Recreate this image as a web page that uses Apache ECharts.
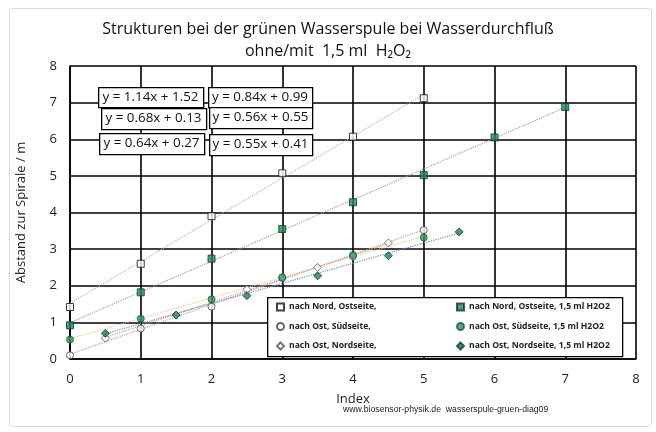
<!DOCTYPE html>
<html>
<head>
<meta charset="utf-8">
<script src="https://cdn.jsdelivr.net/npm/echarts@6/dist/echarts.min.js"></script>
<style>
  html, body { margin: 0; padding: 0; background: #fff; }
  #chart { width: 656px; height: 432px; }
</style>
</head>
<body>
<div id="chart"></div>
<script>
// measured points (index, distance in m)
const nordOst = [[0, 1.42], [1, 2.6], [2, 3.9], [3, 5.07], [4, 6.07], [5, 7.12]];
const nordOstH2O2 = [[0, 0.92], [1, 1.82], [2, 2.74], [3, 3.55], [4, 4.28], [5, 5.02], [6, 6.05], [7, 6.88]];
const ostSued = [[0, 0.1], [1, 0.83], [2, 1.43], [3, 2.21], [4, 2.8], [5, 3.52]];
const ostSuedH2O2 = [[0, 0.53], [1, 1.1], [2, 1.63], [3, 2.23], [4, 2.84], [5, 3.32]];
const ostNord = [[0.5, 0.57], [1.5, 1.2], [2.5, 1.9], [3.5, 2.5], [4.5, 3.17]];
const ostNordH2O2 = [[0.5, 0.7], [1.5, 1.2], [2.5, 1.73], [3.5, 2.27], [4.5, 2.82], [5.5, 3.47]];

// trend line end points as drawn
const trendNordOst = [[0, 1.52], [5, 7.22]];
const trendNordOstH2O2 = [[0, 0.99], [7, 6.87]];
const trendOstSued = [[0, 0.13], [5, 3.53]];
const trendOstSuedH2O2 = [[0, 0.55], [5, 3.35]];
const trendOstNord = [[0.5, 0.59], [4.5, 3.15]];
const trendOstNordH2O2 = [[0.5, 0.69], [5.5, 3.44]];

const seriesNames = [
  'nach Nord, Ostseite,', 'nach Ost, Südseite,', 'nach Ost, Nordseite,',
  'nach Nord, Ostseite, 1,5 ml H2O2', 'nach Ost, Südseite, 1,5 ml H2O2', 'nach Ost, Nordseite, 1,5 ml H2O2'
];
const equations = [
  'y = 1.14x + 1.52', 'y = 0.84x + 0.99',
  'y = 0.68x + 0.13', 'y = 0.56x + 0.55',
  'y = 0.64x + 0.27', 'y = 0.55x + 0.41'
];
const xTicks = [0, 1, 2, 3, 4, 5, 6, 7, 8];

const FONT = 'Open Sans, sans-serif';
const green = '#23895b';

const chart = echarts.init(document.getElementById('chart'));

function pts(name, data, symbol, fill, border) {
  return {
    name: name, type: 'scatter', data: data, symbol: symbol, symbolSize: symbol === 'diamond' ? 8 : 7,
    itemStyle: { color: fill, borderColor: border, borderWidth: 1 }, z: 5
  };
}
function trend(data, color) {
  return {
    type: 'line', data: data, showSymbol: false, silent: true, z: 3,
    lineStyle: { color: color, width: 1.2, type: 'dotted' }
  };
}

// equation boxes (left, top, width, height)
const boxPos = [[98, 87, 105, 20], [208, 87, 104, 20], [101, 108, 105, 21],
                [209, 107, 103, 21], [99, 133, 105, 21], [209, 134, 103, 21]];
const graphics = [
  { type: 'rect', left: 7, top: 6, shape: { width: 642, height: 418, r: 3 },
    style: { fill: 'none', stroke: '#d9d9d9', lineWidth: 1 }, z: 0 },
  { type: 'rect', left: 267, top: 297, shape: { width: 355, height: 59 },
    style: { fill: '#fff', stroke: '#000', lineWidth: 1.3 }, z: 10 },
  { type: 'text', left: 343, top: 405, z: 10,
    style: { text: 'www.biosensor-physik.de  wasserspule-gruen-diag09', fontSize: 8.7,
             fontFamily: 'Liberation Sans Narrow, sans-serif', fill: '#222' } }
];
equations.forEach(function (eq, i) {
  const p = boxPos[i];
  graphics.push({ type: 'rect', left: p[0], top: p[1], shape: { width: p[2], height: p[3] },
    style: { fill: '#fff', stroke: '#000', lineWidth: 1.3 }, z: 10 });
  graphics.push({ type: 'text', x: p[0] + p[2] / 2, y: p[1] + p[3] / 2, z: 11,
    style: { text: eq, fontSize: 13.4, fontFamily: FONT, fill: '#111', align: 'center', verticalAlign: 'middle' } });
});

const legendText = { fontSize: 8.6, fontWeight: 'bold', lineHeight: 12, color: '#222', fontFamily: FONT };

chart.setOption({
  animation: false,
  backgroundColor: '#fff',
  title: [
    { text: 'Strukturen bei der grünen Wasserspule bei Wasserdurchfluß', left: 'center', top: 16,
      textStyle: { fontSize: 16, fontWeight: 'normal', fontFamily: FONT, color: '#111' } },
    { text: 'ohne/mit  1,5 ml  H₂O₂', left: 'center', top: 38,
      textStyle: { fontSize: 16, fontWeight: 'normal', fontFamily: FONT, color: '#111' } }
  ],
  grid: { left: 70, right: 20, top: 66, bottom: 73 },
  legend: [
    { data: seriesNames.slice(0, 3), orient: 'vertical', left: 271, top: 296,
      itemWidth: 7, itemHeight: 7, itemGap: 7.5, z: 12, textStyle: legendText },
    { data: seriesNames.slice(3), orient: 'vertical', left: 451, top: 296,
      itemWidth: 7, itemHeight: 7, itemGap: 7.5, z: 12, textStyle: legendText }
  ],
  xAxis: {
    type: 'value', min: xTicks[0], max: xTicks[xTicks.length - 1], interval: 1,
    name: 'Index', nameLocation: 'middle', nameGap: 34,
    nameTextStyle: { fontSize: 13, fontFamily: FONT, color: '#222' },
    axisLine: { lineStyle: { color: '#000', width: 1.6 } },
    axisTick: { show: false },
    axisLabel: { fontSize: 13, fontFamily: FONT, color: '#222', margin: 14 },
    splitLine: { lineStyle: { color: '#000', width: 1.6 } }
  },
  yAxis: {
    type: 'value', min: 0, max: 8, interval: 1,
    name: 'Abstand zur Spirale / m', nameLocation: 'middle', nameGap: 42,
    nameTextStyle: { fontSize: 13, fontFamily: FONT, color: '#222' },
    axisLine: { show: true, lineStyle: { color: '#000', width: 1.6 } },
    axisTick: { show: false },
    axisLabel: { fontSize: 13, fontFamily: FONT, color: '#222', margin: 13 },
    splitLine: { lineStyle: { color: '#000', width: 1.6 } }
  },
  graphic: graphics,
  series: [
    trend(trendNordOst, '#b8b4cc'),
    trend(trendNordOstH2O2, '#a89a8c'),
    trend(trendOstSued, '#c69a98'),
    trend(trendOstSuedH2O2, '#f2c48a'),
    trend(trendOstNord, '#c4a290'),
    trend(trendOstNordH2O2, '#6f8cc8'),
    pts(seriesNames[0], nordOst, 'rect', '#fff', '#111'),
    pts(seriesNames[1], ostSued, 'circle', '#fff', '#444'),
    pts(seriesNames[2], ostNord, 'diamond', '#fff', '#555'),
    pts(seriesNames[3], nordOstH2O2, 'rect', green, '#113a25'),
    pts(seriesNames[4], ostSuedH2O2, 'circle', '#2e9660', '#1d5a38'),
    pts(seriesNames[5], ostNordH2O2, 'diamond', '#1f7d5a', '#123f2c')
  ]
});
</script>
</body>
</html>
